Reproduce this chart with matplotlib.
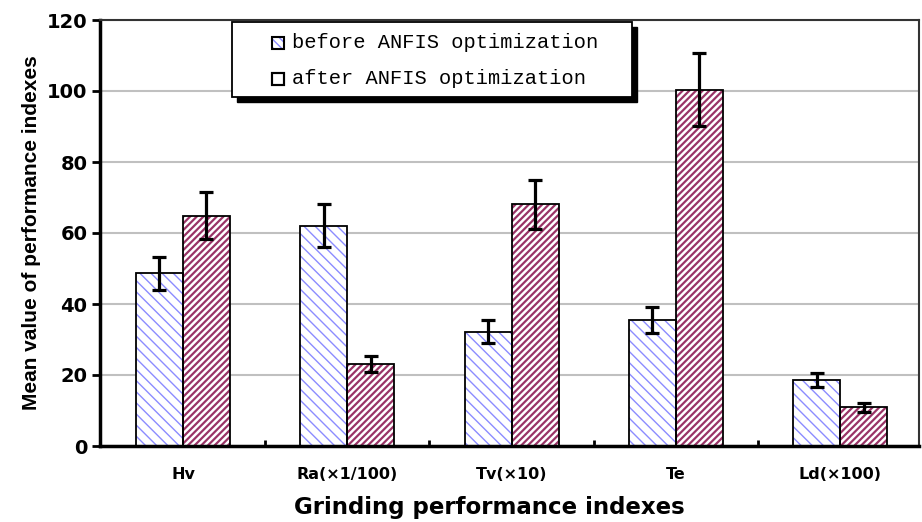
import matplotlib
matplotlib.use("Agg")
import matplotlib.pyplot as plt
import matplotlib.patches as mpatches
import numpy as np

# values
categories = ["Hv", "Ra(\u00d71/100)", "Tv(\u00d710)", "Te", "Ld(\u00d7100)"]
before_mean = [48.6, 62.1, 32.2, 35.4, 18.6]
before_err = [4.7, 6.1, 3.2, 3.7, 2.0]
after_mean = [64.9, 23.1, 68.1, 100.4, 10.9]
after_err = [6.6, 2.3, 6.9, 10.3, 1.3]
legend_labels = ["before ANFIS optimization", "after ANFIS optimization"]
yticks = [0, 20, 40, 60, 80, 100, 120]

blue_hatch = "#8c8cff"
red_hatch = "#993366"
sans = ["Liberation Sans", "DejaVu Sans"]
wide = ["DejaVu Sans"]

W, H = 922, 522
fig = plt.figure(figsize=(W / 100, H / 100), dpi=100)
ax = fig.add_axes([100 / W, 1 - 446 / H, 819 / W, 426 / H])

x = np.arange(len(categories))
w = 0.286


def hatched_bars(xpos, heights, color, hatch, hlw):
    bars = ax.bar(xpos, heights, w, color="white", edgecolor=color,
                  hatch=hatch, linewidth=0, zorder=2)
    for b in bars:
        if hasattr(b, "set_hatch_linewidth"):
            b.set_hatch_linewidth(hlw)
    ax.bar(xpos, heights, w, facecolor="none", edgecolor="black",
           linewidth=1.3, zorder=3)


plt.rcParams["hatch.linewidth"] = 1.0
hatched_bars(x - w / 2, before_mean, blue_hatch, "\\\\\\", 1.0)
hatched_bars(x + w / 2, after_mean, red_hatch, "/////", 1.6)

ax.errorbar(x - w / 2, before_mean, yerr=before_err, fmt="none", ecolor="black",
            elinewidth=2.3, capsize=5, capthick=2.3, zorder=4)
ax.errorbar(x + w / 2, after_mean, yerr=after_err, fmt="none", ecolor="black",
            elinewidth=2.3, capsize=5, capthick=2.3, zorder=4)

ax.set_xlim(-0.505, 4.48)
ax.set_ylim(0, 120)
ax.set_yticks(yticks)
ax.set_yticklabels([str(t) for t in yticks], fontfamily=wide,
                   fontweight="bold", fontsize=14)
ax.tick_params(axis="y", direction="out", length=6, width=2, pad=3)
ax.yaxis.grid(True, color="#c0c0c0", linewidth=1.5, zorder=0)
ax.set_axisbelow(True)

ax.set_xticks(x)
ax.set_xticklabels(categories, fontfamily=wide, fontweight="bold", fontsize=11.5)
ax.tick_params(axis="x", which="major", length=0, pad=15)
ax.set_xticks(x[:-1] + 0.5, minor=True)
ax.tick_params(axis="x", which="minor", direction="in", length=4, width=2)

for side in ["left", "bottom"]:
    ax.spines[side].set_linewidth(2.5)
for side in ["top", "right"]:
    ax.spines[side].set_linewidth(1.5)
    ax.spines[side].set_color("#333333")

ax.set_xlabel("Grinding performance indexes", fontfamily=wide,
              fontweight="bold", fontsize=16.5, va="center")
ax.xaxis.set_label_coords(0.475, -0.1455)
ax.set_ylabel("Mean value of performance indexes", fontfamily=sans,
              fontweight="bold", fontsize=15, va="center")
ax.yaxis.set_label_coords(-0.084, 0.5)

# legend drawn by hand: box with a solid black drop shadow
def fx(px):
    return px / W


def fy(py):
    return 1 - py / H


bx0, bx1, by0, by1 = 232, 632, 22, 97
fig.patches.append(mpatches.Rectangle((fx(bx0 + 5), fy(by1 + 5)), fx(bx1 - bx0),
                                      (by1 - by0) / H, facecolor="black",
                                      edgecolor="black", transform=fig.transFigure,
                                      zorder=5))
fig.patches.append(mpatches.Rectangle((fx(bx0), fy(by1)), fx(bx1 - bx0),
                                      (by1 - by0) / H, facecolor="white",
                                      edgecolor="black", linewidth=1.3,
                                      transform=fig.transFigure, zorder=6))
row_y = [43, 79]
handle_styles = [
    dict(facecolor="white", edgecolor=blue_hatch, hatch="\\\\\\\\", linewidth=0),
    dict(facecolor="white", edgecolor="black", linewidth=1.5),
]
for ry, label, style in zip(row_y, legend_labels, handle_styles):
    hb = mpatches.Rectangle((fx(272), fy(ry + 6)), fx(12), 12 / H,
                            transform=fig.transFigure, zorder=7, **style)
    fig.patches.append(hb)
    fig.patches.append(mpatches.Rectangle((fx(272), fy(ry + 6)), fx(12), 12 / H,
                                          facecolor="none", edgecolor="black",
                                          linewidth=1.5, transform=fig.transFigure,
                                          zorder=8))
    fig.text(fx(292), fy(ry), label, fontfamily="Liberation Mono", fontsize=14.7,
             va="center", ha="left", zorder=9)

fig.savefig("out.png", dpi=100)
